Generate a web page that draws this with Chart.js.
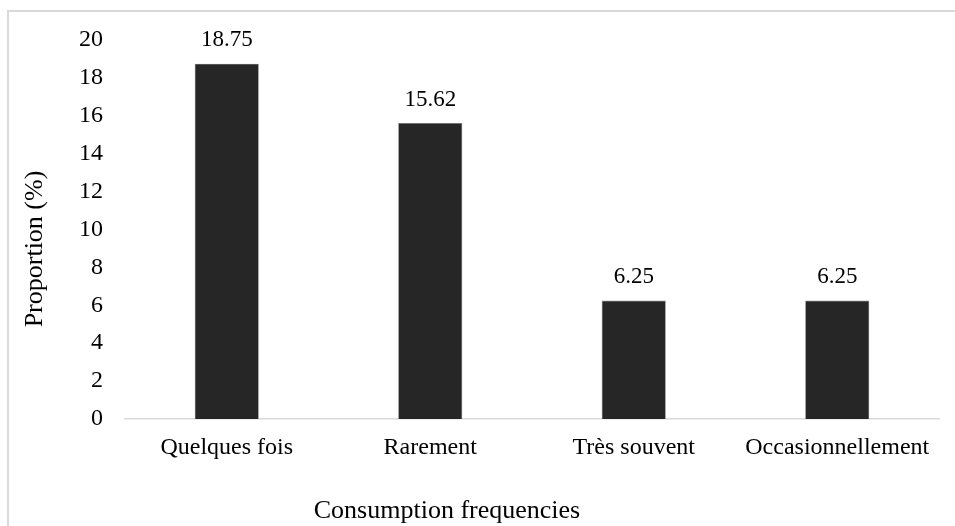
<!DOCTYPE html>
<html>
<head>
<meta charset="utf-8">
<script src="https://cdn.jsdelivr.net/npm/chart.js@4/dist/chart.umd.min.js"></script>
<style>
  html, body { margin: 0; padding: 0; background: #fff; overflow: hidden; }
  #wrap { position: relative; width: 955px; height: 526px; }
  #frame { position: absolute; left: 7px; top: 10px; width: 960px; height: 540px; border: 2px solid #d9d9d9; box-sizing: border-box; }
  canvas { position: absolute; left: 0; top: 0; }
</style>
</head>
<body>
<div id="wrap">
  <div id="frame"></div>
  <canvas id="c" width="955" height="526"></canvas>
</div>
<script>
const categories = ["Quelques fois", "Rarement", "Très souvent", "Occasionnellement"];
const proportions = [18.75, 15.62, 6.25, 6.25];
const valueLabels = ["18.75", "15.62", "6.25", "6.25"];
const xTitle = "Consumption frequencies";
const yTitle = "Proportion (%)";

const FONT = "'Liberation Serif', 'Times New Roman', serif";

const barLabels = {
  id: 'barLabels',
  afterDatasetsDraw(chart) {
    const ctx = chart.ctx;
    const meta = chart.getDatasetMeta(0);
    ctx.save();
    ctx.font = "23px " + FONT;
    ctx.fillStyle = "#000";
    ctx.textAlign = "center";
    ctx.textBaseline = "bottom";
    meta.data.forEach((bar, i) => {
      ctx.fillText(valueLabels[i], bar.x, bar.y - 12);
    });
    ctx.restore();
  }
};

const axisTitles = {
  id: 'axisTitles',
  afterDraw(chart) {
    const ctx = chart.ctx;
    ctx.save();
    ctx.font = "26px " + FONT;
    ctx.fillStyle = "#000";
    ctx.textAlign = "center";
    ctx.textBaseline = "middle";
    ctx.fillText(xTitle, 447, 511);
    ctx.translate(35, 249);
    ctx.rotate(-Math.PI / 2);
    ctx.fillText(yTitle, 0, 0);
    ctx.restore();
  }
};

new Chart(document.getElementById('c'), {
  type: 'bar',
  data: {
    labels: categories,
    datasets: [{
      data: proportions,
      backgroundColor: '#262626',
      borderColor: '#7f7f7f',
      borderWidth: 0.6,
      barPercentage: 0.63,
      categoryPercentage: 0.5
    }]
  },
  options: {
    responsive: false,
    animation: false,
    devicePixelRatio: 1,
    layout: { padding: { top: 40, right: 16, bottom: 0, left: 0 } },
    plugins: { legend: { display: false }, tooltip: { enabled: false } },
    scales: {
      x: {
        grid: { display: false, drawTicks: false },
        border: { display: true, color: '#d9d9d9', width: 1.5 },
        ticks: { color: '#000', font: { family: FONT, size: 24 }, padding: 14, maxRotation: 0, autoSkip: false },
        title: { display: false },
        afterFit(scale) { scale.height = 107; }
      },
      y: {
        min: 0, max: 20,
        grid: { display: false, drawTicks: false },
        border: { display: false },
        ticks: { stepSize: 2, color: '#000', font: { family: FONT, size: 24 }, padding: 22 },
        title: { display: false },
        afterFit(scale) { scale.width = 125; }
      }
    }
  },
  plugins: [barLabels, axisTitles]
});
</script>
</body>
</html>
